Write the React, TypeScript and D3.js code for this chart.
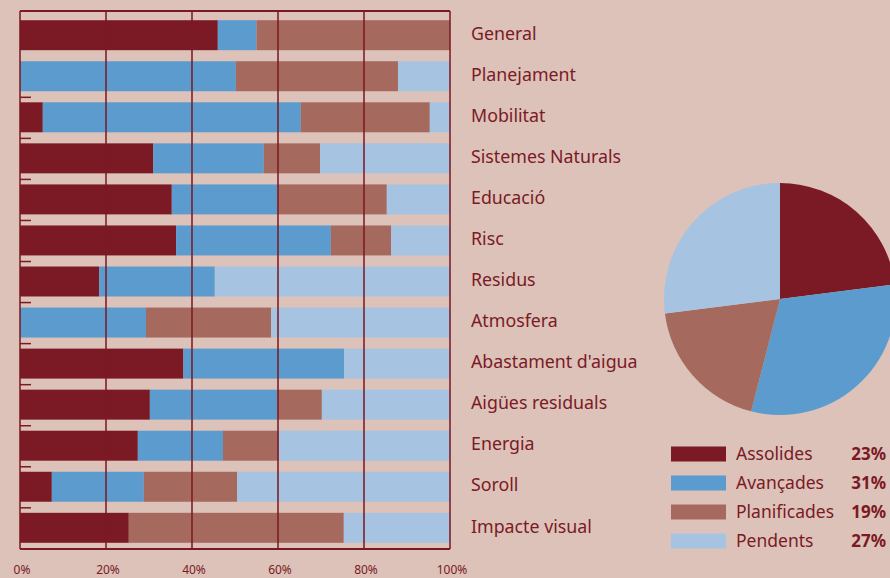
import React, { useRef, useEffect } from "react";
import * as d3 from "d3";

// values, % per category
const categories = [
  "General",
  "Planejament",
  "Mobilitat",
  "Sistemes Naturals",
  "Educació",
  "Risc",
  "Residus",
  "Atmosfera",
  "Abastament d'aigua",
  "Aigües residuals",
  "Energia",
  "Soroll",
  "Impacte visual",
];
const assolides = [46, 0, 5.3, 31, 35.3, 36.3, 18.4, 0, 38, 30.2, 27.4, 7.4, 25.3];
const avancades = [9, 50.2, 60, 25.7, 24.5, 36, 26.9, 29.3, 37.4, 29.6, 19.8, 21.4, 0];
const planificades = [45, 37.7, 30, 13.1, 25.5, 14, 0, 29.1, 0, 10.4, 13, 21.7, 50];
const pendents = [0, 12.1, 4.7, 30.2, 14.7, 13.7, 54.7, 41.6, 24.6, 29.8, 39.8, 49.5, 24.7];

const seriesNames = ["Assolides", "Avançades", "Planificades", "Pendents"];
const totals = [23, 31, 19, 27];
const xTicks = [0, 20, 40, 60, 80, 100];

const colors = ["#7b1a25", "#5b9bcd", "#a5695e", "#a6c3e1"];
const bg = "#dcc2b9";
const ink = "#7b1a25";
const font = "Noto Sans, sans-serif";

export default function App() {
  const svgRef = useRef<SVGSVGElement>(null);
  const width = 890;
  const height = 578;

  useEffect(() => {
    const svg = d3.select(svgRef.current);
    svg.selectAll("*").remove();

    svg.append("rect").attr("width", width).attr("height", height).attr("fill", bg);

    const x = d3.scaleLinear().domain([0, 100]).range([20, 450]);
    const y = d3
      .scaleBand()
      .domain(categories)
      .range([12, 551])
      .paddingInner(0.27)
      .paddingOuter(0.2);

    const rows = categories.map((c, i) => ({
      cat: c,
      Assolides: assolides[i],
      "Avançades": avancades[i],
      Planificades: planificades[i],
      Pendents: pendents[i],
    }));
    const stacked = d3.stack<any>().keys(seriesNames)(rows);

    // bars
    svg
      .append("g")
      .selectAll("g")
      .data(stacked)
      .join("g")
      .attr("fill", (d, i) => colors[i])
      .selectAll("rect")
      .data((d) => d)
      .join("rect")
      .attr("x", (d) => x(d[0]))
      .attr("width", (d) => x(d[1]) - x(d[0]))
      .attr("y", (d) => y(d.data.cat)!)
      .attr("height", y.bandwidth());

    // grid lines over bars
    svg
      .append("g")
      .selectAll("line")
      .data(xTicks)
      .join("line")
      .attr("x1", (d) => x(d))
      .attr("x2", (d) => x(d))
      .attr("y1", 11)
      .attr("y2", 549)
      .attr("stroke", ink)
      .attr("stroke-width", 1.8)
      .attr("opacity", 0.85);

    // frame top and bottom
    svg
      .append("g")
      .selectAll("line")
      .data([11, 549])
      .join("line")
      .attr("x1", x(0))
      .attr("x2", x(100))
      .attr("y1", (d) => d)
      .attr("y2", (d) => d)
      .attr("stroke", ink)
      .attr("stroke-width", 2);

    // small category ticks
    svg
      .append("g")
      .selectAll("line")
      .data(categories.slice(2))
      .join("line")
      .attr("x1", x(0))
      .attr("x2", x(0) + 11)
      .attr("y1", (d) => y(d)! - 5)
      .attr("y2", (d) => y(d)! - 5)
      .attr("stroke", ink)
      .attr("stroke-width", 1.5);

    // x tick labels
    svg
      .append("g")
      .selectAll("text")
      .data(xTicks)
      .join("text")
      .attr("x", (d) => x(d) + 2)
      .attr("y", 574)
      .attr("text-anchor", "middle")
      .attr("fill", ink)
      .attr("font-family", font)
      .attr("font-size", 12)
      .text((d) => d + "%");

    // category labels
    svg
      .append("g")
      .selectAll("text")
      .data(categories)
      .join("text")
      .attr("x", 471)
      .attr("y", (d) => y(d)! + y.bandwidth() / 2 - 1.5)
      .attr("dy", "0.35em")
      .attr("fill", ink)
      .attr("font-family", font)
      .attr("font-size", 17.8)
      .text((d) => d);

    // pie
    const pie = d3.pie<number>().sort(null)(totals);
    const arc = d3.arc<d3.PieArcDatum<number>>().innerRadius(0).outerRadius(116);
    svg
      .append("g")
      .attr("transform", "translate(780,299)")
      .selectAll("path")
      .data(pie)
      .join("path")
      .attr("d", arc)
      .attr("fill", (d, i) => colors[i]);

    // legend
    const lg = svg
      .append("g")
      .selectAll("g")
      .data(seriesNames)
      .join("g")
      .attr("transform", (d, i) => `translate(671,${454 + i * 29})`);
    lg.append("rect")
      .attr("y", -7.5)
      .attr("width", 55)
      .attr("height", 15)
      .attr("fill", (d, i) => colors[i]);
    lg.append("text")
      .attr("x", 65)
      .attr("dy", "0.35em")
      .attr("fill", ink)
      .attr("font-family", font)
      .attr("font-size", 17.5)
      .text((d) => d);
    lg.append("text")
      .attr("x", 215)
      .attr("dy", "0.35em")
      .attr("text-anchor", "end")
      .attr("fill", ink)
      .attr("font-family", font)
      .attr("font-size", 17)
      .attr("font-weight", "bold")
      .text((d, i) => totals[i] + "%");
  }, []);

  return (
    <div style={{ position: "fixed", left: 0, top: 0 }}>
      <svg ref={svgRef} width={width} height={height} style={{ display: "block" }} />
    </div>
  );
}
